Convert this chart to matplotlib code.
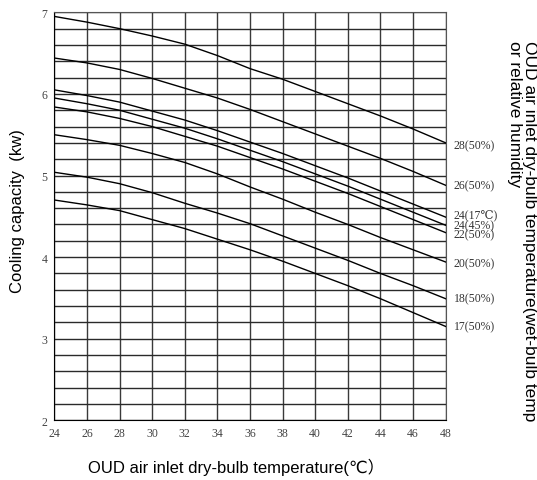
import numpy as np
import matplotlib
matplotlib.use('Agg')
import matplotlib.pyplot as plt

# outdoor dry-bulb temperature (x axis)
temps = [24, 26, 28, 30, 32, 34, 36, 38, 40, 42, 44, 46, 48]

# cooling capacity (kw), one curve per indoor condition
cap_28 = [6.95, 6.88, 6.80, 6.71, 6.61, 6.47, 6.31, 6.18, 6.03, 5.88, 5.73, 5.57, 5.40]
cap_26 = [6.44, 6.38, 6.30, 6.19, 6.07, 5.95, 5.81, 5.66, 5.51, 5.36, 5.21, 5.05, 4.88]
cap_24_17 = [6.05, 5.98, 5.90, 5.79, 5.68, 5.55, 5.41, 5.27, 5.12, 4.97, 4.81, 4.65, 4.49]
cap_24_45 = [5.95, 5.88, 5.80, 5.69, 5.58, 5.45, 5.31, 5.17, 5.02, 4.87, 4.71, 4.55, 4.39]
cap_22 = [5.84, 5.78, 5.70, 5.60, 5.48, 5.36, 5.22, 5.08, 4.93, 4.78, 4.62, 4.46, 4.30]
cap_20 = [5.50, 5.44, 5.37, 5.27, 5.16, 5.02, 4.86, 4.71, 4.55, 4.40, 4.24, 4.09, 3.94]
cap_18 = [5.04, 4.98, 4.90, 4.79, 4.66, 4.54, 4.41, 4.26, 4.11, 3.96, 3.80, 3.65, 3.49]
cap_17 = [4.70, 4.64, 4.57, 4.46, 4.35, 4.22, 4.09, 3.95, 3.80, 3.65, 3.49, 3.32, 3.15]

curves = [cap_28, cap_26, cap_24_17, cap_24_45, cap_22, cap_20, cap_18, cap_17]
labels = ['28(50%)', '26(50%)', '24(17℃)', '24(45%)', '22(50%)', '20(50%)', '18(50%)', '17(50%)']
# small nudges so the three packed labels stay readable
label_nudge = [-0.03, 0, 0.025, 0, -0.02, -0.02, 0, 0]

xticks = list(range(24, 49, 2))
yticks = [2, 3, 4, 5, 6, 7]

serif = ['Liberation Serif', 'DejaVu Serif', 'DejaVu Sans', 'Noto Sans CJK SC']
sans = ['Liberation Sans', 'DejaVu Sans', 'Noto Sans CJK SC']

fig = plt.figure(figsize=(5.37, 4.81), dpi=100)
ax = fig.add_axes([0.1011, 0.1241, 0.7289, 0.8482])

# grid: every 2 degC and every 0.2 kw
for gx in np.arange(24, 48.1, 2):
    ax.axvline(gx, color='#3a3a3a', lw=1.0, zorder=1)
for gy in np.arange(2, 7.01, 0.2):
    ax.axhline(gy, color='#2a2a2a', lw=1.0, zorder=1)

for vals in curves:
    ax.plot(temps, vals, color='black', lw=1.0, zorder=3)

for vals, lab, dn in zip(curves, labels, label_nudge):
    ax.text(48.5, vals[-1] + dn, lab, va='center', ha='left', fontsize=8.5,
            family=serif, color='#333333', clip_on=False)

ax.set_xlim(24, 48)
ax.set_ylim(2, 7)
ax.set_xticks(xticks)
ax.set_yticks(yticks)
ax.tick_params(length=0, labelsize=8.5, labelcolor='#444444', pad=5)
for t in ax.get_xticklabels() + ax.get_yticklabels():
    t.set_family(serif)
for side in ['left', 'bottom']:
    ax.spines[side].set_color('black')
for side in ['right', 'top']:
    ax.spines[side].set_color('#555555')

fig.text(0.032, 0.561, 'Cooling capacity  (kw)', rotation=90, ha='center', va='center',
         fontsize=12, family=sans)
fig.text(0.44, 0.029, 'OUD air inlet dry-bulb temperature(℃）', ha='center', va='center',
         fontsize=12, family=sans)
fig.text(0.972, 0.915, 'OUD air inlet dry-bulb temperature(wet-bulb temp\nor relative humidity',
         rotation=270, ha='center', va='top', fontsize=12.5, family=sans,
         multialignment='left', linespacing=1.0)

fig.savefig('out.png', dpi=100)
